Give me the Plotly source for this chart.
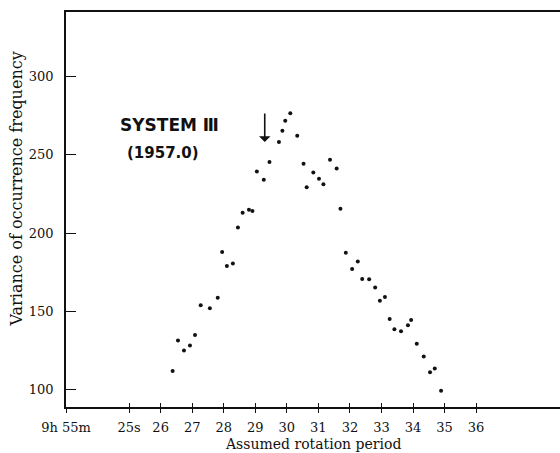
import plotly.graph_objects as go

# Assumed rotation period (seconds past 9h 55m) and variance of occurrence frequency
period_s = [26.38, 26.55, 26.74, 26.93, 27.09, 27.27, 27.56, 27.81, 27.95, 28.10,
            28.29, 28.45, 28.60, 28.80, 28.91, 29.05, 29.27, 29.45, 29.75, 29.86,
            29.95, 30.11, 30.33, 30.53, 30.63, 30.84, 31.02, 31.16, 31.37, 31.58,
            31.70, 31.87, 32.07, 32.25, 32.39, 32.61, 32.80, 32.95, 33.11, 33.26,
            33.41, 33.62, 33.84, 33.94, 34.12, 34.34, 34.54, 34.69, 34.89]
variance = [111.9, 131.3, 124.9, 128.1, 134.9, 153.8, 151.9, 158.7, 187.9, 179.0,
            180.6, 203.6, 213.0, 214.9, 214.1, 239.4, 234.1, 245.4, 258.2, 265.5,
            271.9, 276.6, 262.3, 244.3, 229.4, 238.8, 234.7, 231.3, 246.9, 241.3,
            215.5, 187.5, 177.1, 181.9, 170.7, 170.5, 165.2, 156.8, 159.2, 145.0,
            138.6, 137.2, 141.0, 144.5, 129.2, 121.1, 111.0, 113.4, 99.2]

x_tickvals = [23.0, 25, 26, 27, 28, 29, 30, 31, 32, 33, 34, 35, 36]
x_ticktext = ["9h 55m", "25s", "26", "27", "28", "29", "30", "31", "32", "33", "34", "35", "36"]
y_tickvals = [100, 150, 200, 250, 300]
system_iii_period = 29.3

XR = [23.0, 38.66]
YR = [88.8, 341.4]
SERIF = "DejaVu Serif, Liberation Serif, serif"
INK = "#111111"

fig = go.Figure()
fig.add_trace(go.Scatter(
    x=period_s, y=variance, mode="markers",
    marker=dict(color=INK, size=4),
    showlegend=False, hoverinfo="skip",
))
# dummy trace to activate xaxis2 (inner half of crossing ticks)
fig.add_trace(go.Scatter(x=[None], y=[None], xaxis="x2", showlegend=False, hoverinfo="skip"))

fig.update_layout(
    width=560, height=453,
    margin=dict(l=66, r=0, t=12, b=46, autoexpand=False),
    paper_bgcolor="white", plot_bgcolor="white",
    font=dict(family=SERIF, color=INK),
    xaxis=dict(
        range=XR, tickvals=x_tickvals, ticktext=x_ticktext,
        showgrid=False, zeroline=False, showline=True, linecolor=INK,
        linewidth=1.6, mirror=True, ticks="outside", ticklen=4, tickwidth=1.4,
        tickcolor=INK, tickfont=dict(size=13, family=SERIF),
        ticklabelstandoff=4, automargin=False,
    ),
    xaxis2=dict(
        range=XR, overlaying="x", anchor="y", side="bottom",
        tickvals=x_tickvals[1:], ticks="inside", ticklen=4, tickwidth=1.4,
        tickcolor=INK, showticklabels=False, showgrid=False,
        zeroline=False, showline=False, automargin=False,
    ),
    yaxis=dict(
        range=YR, tickvals=y_tickvals,
        showgrid=False, zeroline=False, showline=True, linecolor=INK,
        linewidth=1.6, ticks="inside", ticklen=10, tickwidth=1.4,
        tickcolor=INK, tickfont=dict(size=13, family=SERIF),
        ticklabelstandoff=8, automargin=False,
    ),
)

# axis titles
fig.add_annotation(x=0.5, y=0, xref="paper", yref="paper", yshift=-37,
                   text="Assumed rotation period", showarrow=False,
                   xanchor="center", yanchor="middle",
                   font=dict(size=14, family=SERIF, color=INK))
fig.add_annotation(x=0, y=0.5, xref="paper", yref="paper", xshift=-50, yshift=20,
                   text="Variance of occurrence frequency", showarrow=False,
                   textangle=-90, xanchor="center", yanchor="middle",
                   font=dict(size=16, family=SERIF, color=INK))

fig.add_annotation(x=24.64, y=269, xref="x", yref="y", text="<b>SYSTEM Ⅲ</b>",
                   showarrow=False, xanchor="left", yanchor="middle",
                   font=dict(size=17, family="DejaVu Sans, sans-serif", color=INK))
fig.add_annotation(x=24.87, y=251.5, xref="x", yref="y", text="<b>(1957.0)</b>",
                   showarrow=False, xanchor="left", yanchor="middle",
                   font=dict(size=15, family="DejaVu Sans, sans-serif", color=INK))
fig.add_annotation(x=system_iii_period, y=258.2, xref="x", yref="y",
                   ax=system_iii_period, ay=277.4, axref="x", ayref="y",
                   text="", showarrow=True, arrowhead=1, arrowsize=1.2,
                   arrowwidth=1.6, arrowcolor=INK)

fig.write_html("out.html", config={"displayModeBar": False},
               post_script="document.body.style.margin='0';document.body.style.overflow='hidden';")
